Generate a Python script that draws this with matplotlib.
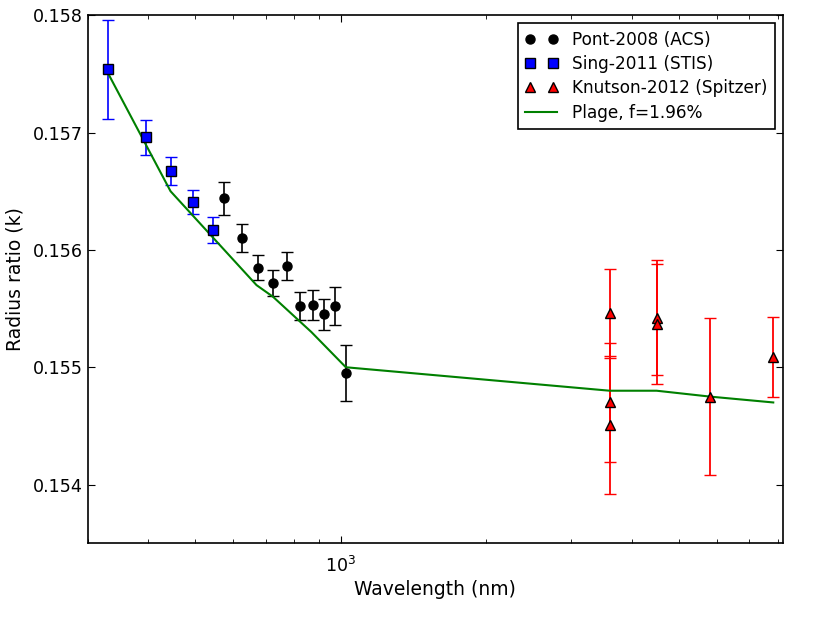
import numpy as np
import matplotlib
matplotlib.use("Agg")
import matplotlib.pyplot as plt
from matplotlib.lines import Line2D
from matplotlib.legend_handler import HandlerLine2D
from matplotlib.ticker import NullFormatter, ScalarFormatter

plt.rcParams['mathtext.fontset'] = 'dejavusans'
plt.rcParams['font.size'] = 12

# Pont-2008 (ACS)
acs_wl = [575, 625, 675, 725, 775, 825, 875, 925, 975, 1025]
acs_k = [0.15644, 0.15610, 0.15585, 0.15572, 0.15586, 0.15552, 0.15553, 0.15545, 0.15552, 0.15495]
acs_err = [0.00014, 0.00012, 0.00011, 0.00011, 0.00012, 0.00012, 0.00013, 0.00013, 0.00016, 0.00024]

# Sing-2011 (STIS)
stis_wl = [331, 395, 445, 495, 544]
stis_k = [0.15754, 0.15696, 0.15667, 0.15641, 0.15617]
stis_err = [0.00042, 0.00015, 0.00012, 0.00010, 0.00011]

# Knutson-2012 (Spitzer)
irac_wl = [3600, 3600, 3600, 4500, 4500, 5800, 7840]
irac_k = [0.15546, 0.15470, 0.15451, 0.15542, 0.15537, 0.15475, 0.15509]
irac_err = [0.00038, 0.00051, 0.00059, 0.00049, 0.00051, 0.00067, 0.00034]

# plage model
model_wl = [331, 445, 670, 725, 870, 1025, 3600, 4500, 5800, 7840]
model_k = [0.1575, 0.1565, 0.1557, 0.1556, 0.1553, 0.1550, 0.1548, 0.1548, 0.15475, 0.1547]

fig = plt.figure(figsize=(8.3, 6.23), dpi=100)
ax = fig.add_axes([0.1057, 0.128, 0.8373, 0.8475])

ax.errorbar(acs_wl, acs_k, yerr=acs_err, fmt='o', color='k', ecolor='k',
            markersize=6.5, mec='k', elinewidth=1.2, capsize=4, capthick=1)
ax.errorbar(stis_wl, stis_k, yerr=stis_err, fmt='s', color='b', ecolor='b',
            markersize=6.5, mec='k', elinewidth=1.2, capsize=4, capthick=1)
ax.errorbar(irac_wl, irac_k, yerr=irac_err, fmt='^', color='r', ecolor='r',
            markersize=7, mec='k', elinewidth=1.3, capsize=4, capthick=1)
ax.plot(model_wl, model_k, 'g-', lw=1.5)

ax.set_xscale('log')
ax.set_xlim(300, 8200)
ax.set_ylim(0.1535, 0.158)
ax.set_yticks([0.154, 0.155, 0.156, 0.157, 0.158])
ax.yaxis.set_major_formatter(ScalarFormatter(useOffset=False))
ax.xaxis.set_minor_formatter(NullFormatter())

ax.tick_params(which='both', direction='in', top=True, right=True, labelsize=12.6)
ax.tick_params(which='major', length=5)
ax.tick_params(which='minor', length=3)
ax.tick_params(axis='x', which='major', pad=9)
for s in ax.spines.values():
    s.set_linewidth(1.2)

ax.set_xlabel("Wavelength (nm)", fontsize=13.5, labelpad=3)
ax.set_ylabel("Radius ratio (k)", fontsize=13.5, labelpad=6)

handles = [
    Line2D([], [], ls='none', marker='o', color='k', mec='k', markersize=6.5),
    Line2D([], [], ls='none', marker='s', color='b', mec='k', markersize=6.5),
    Line2D([], [], ls='none', marker='^', color='r', mec='k', markersize=7),
    Line2D([], [], color='g', lw=1.5),
]
labels = ['Pont-2008 (ACS)', 'Sing-2011 (STIS)', 'Knutson-2012 (Spitzer)', 'Plage, f=1.96%']
hmap = {h: HandlerLine2D(numpoints=2, marker_pad=0.25) for h in handles[:3]}
leg = ax.legend(handles, labels, handler_map=hmap, loc='upper right', fancybox=False,
                framealpha=1, edgecolor='k', handlelength=1.85, handletextpad=0.9,
                labelspacing=0.38, borderpad=0.45, borderaxespad=0.45,
                prop={'size': 12.2})
leg.get_frame().set_linewidth(1.2)

fig.savefig("out.png", dpi=100)
